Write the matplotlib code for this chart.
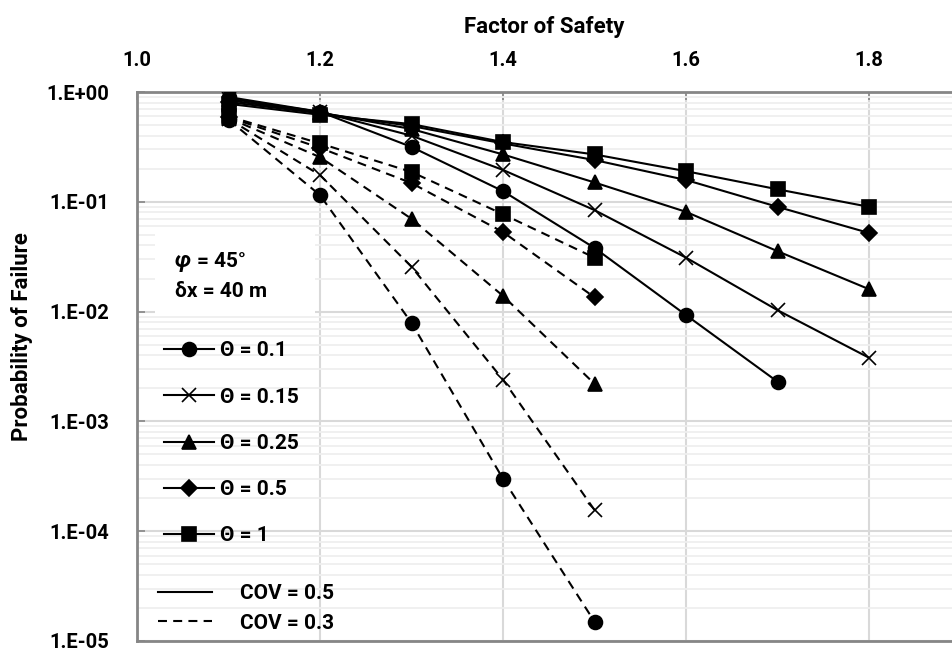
import numpy as np
import matplotlib
matplotlib.use("Agg")
import matplotlib.pyplot as plt
from matplotlib.lines import Line2D
from matplotlib.patches import Rectangle
from matplotlib.ticker import FuncFormatter, LogLocator, NullFormatter

plt.rcParams['font.family'] = ['Roboto', 'DejaVu Sans']
plt.rcParams['font.weight'] = 'bold'

# データ
fs = [1.1, 1.2, 1.3, 1.4, 1.5, 1.6, 1.7, 1.8]
fs_short = [1.1, 1.2, 1.3, 1.4, 1.5]

# COV = 0.5 （実線）
pf_t01_c05 = [0.90, 0.66, 0.316, 0.125, 0.038, 0.0093, 0.0023]
pf_t015_c05 = [0.87, 0.66, 0.40, 0.195, 0.084, 0.031, 0.0103, 0.0038]
pf_t025_c05 = [0.84, 0.65, 0.46, 0.27, 0.15, 0.081, 0.0355, 0.016]
pf_t05_c05 = [0.81, 0.64, 0.49, 0.34, 0.24, 0.158, 0.090, 0.052]
pf_t1_c05 = [0.78, 0.62, 0.51, 0.35, 0.27, 0.19, 0.13, 0.090]

# COV = 0.3 （破線）
pf_t01_c03 = [0.56, 0.115, 0.0079, 0.0003, 1.5e-5]
pf_t015_c03 = [0.57, 0.175, 0.0256, 0.0024, 1.56e-4]
pf_t025_c03 = [0.58, 0.255, 0.070, 0.0139, 0.0022]
pf_t05_c03 = [0.59, 0.31, 0.148, 0.053, 0.0135]
pf_t1_c03 = [0.60, 0.34, 0.187, 0.077, 0.031]

theta_labels = ["Θ = 0.1", "Θ = 0.15", "Θ = 0.25", "Θ = 0.5", "Θ = 1"]
markers = ["o", "x", "^", "D", "s"]
msizes = [10, 10, 10, 8, 10]

solid = [pf_t01_c05, pf_t015_c05, pf_t025_c05, pf_t05_c05, pf_t1_c05]
dashed = [pf_t01_c03, pf_t015_c03, pf_t025_c03, pf_t05_c03, pf_t1_c03]

fig = plt.figure(figsize=(9.52, 6.55), dpi=100)
ax = fig.add_axes([137 / 952, 14 / 655, 815 / 952, 549 / 655])

dash = (0, (4.3, 3.0))
for ys, m, ms in zip(dashed, markers, msizes):
    ax.plot(fs_short[:len(ys)], ys, color="black", lw=1.5, ls=dash,
            marker=m, ms=ms, mew=1.2, zorder=3)
for ys, m, ms in zip(solid, markers, msizes):
    ax.plot(fs[:len(ys)], ys, color="black", lw=1.5, ls="-",
            marker=m, ms=ms, mew=1.2, zorder=4)

ax.set_yscale("log")
ax.set_ylim(1e-5, 1)
ax.set_xlim(1.0, 1.8907)

# 軸とグリッド
ax.xaxis.tick_top()
ax.xaxis.set_label_position("top")
ax.set_xticks([1.0, 1.2, 1.4, 1.6, 1.8])
ax.set_xticklabels(["1.0", "1.2", "1.4", "1.6", "1.8"])
ax.yaxis.set_major_locator(LogLocator(base=10, numticks=10))
ax.yaxis.set_minor_locator(LogLocator(base=10, subs=np.arange(2, 10), numticks=20))
ax.yaxis.set_minor_formatter(NullFormatter())
ax.yaxis.set_major_formatter(FuncFormatter(lambda v, p: "1.E%+03d" % int(round(np.log10(v)))))

ax.tick_params(axis="both", which="major", direction="in", length=6, width=1.2,
               color="#868686", labelsize=14.5)
ax.tick_params(axis="y", which="major", pad=20)
ax.tick_params(axis="x", which="major", pad=16)
ax.tick_params(axis="y", which="minor", length=0)
for lab in ax.get_xticklabels() + ax.get_yticklabels():
    lab.set_fontweight("bold")

ax.grid(True, which="major", color="#d9d9d9", lw=1.5, zorder=0)
ax.grid(True, which="minor", axis="y", color="#efefef", lw=1.3, zorder=0)
ax.set_axisbelow(True)

for s in ["top", "left", "bottom"]:
    ax.spines[s].set_color("#868686")
    ax.spines[s].set_linewidth(2)
ax.spines["right"].set_visible(False)

ax.set_xlabel("Factor of Safety", fontsize=16, fontweight="bold", labelpad=12.5)
ax.set_ylabel("Probability of Failure", fontsize=16, fontweight="bold")
ax.yaxis.set_label_coords(-0.127, 0.555)

# φ, δx のテキスト（白い背景）
ax.add_patch(Rectangle((0.022, 0.592), 0.196, 0.153, transform=ax.transAxes,
                       facecolor="white", edgecolor="none", zorder=1))
ax.text(0.0466, 0.692, "φ", transform=ax.transAxes, fontsize=16, fontweight="bold",
        style="italic", va="center", ha="left", zorder=5)
ax.text(0.0736, 0.692, "= 45°", transform=ax.transAxes, fontsize=15, fontweight="bold",
        va="center", ha="left", zorder=5)
ax.text(0.0466, 0.6375, "δx = 40 m", transform=ax.transAxes, fontsize=15,
        fontweight="bold", va="center", ha="left", zorder=5)

# 凡例（Θ）
h1 = [Line2D([], [], color="black", lw=1.5, marker=m, ms=ms, mew=1.2)
      for m, ms in zip(markers, msizes)]
leg1 = ax.legend(h1, theta_labels, loc="upper left", bbox_to_anchor=(0.033, 0.546),
                 frameon=False, fontsize=15, labelspacing=1.31, handlelength=2.4,
                 handletextpad=0.3, borderaxespad=0, borderpad=0)
for t in leg1.get_texts():
    t.set_fontweight("bold")
ax.add_artist(leg1)

# 凡例（COV）
h2 = [Line2D([], [], color="black", lw=1.5, ls="-"),
      Line2D([], [], color="black", lw=1.5, ls=dash)]
leg2 = ax.legend(h2, ["COV = 0.5", "COV = 0.3"], loc="upper left",
                 bbox_to_anchor=(0.0258, 0.103), frameon=False, fontsize=15,
                 labelspacing=0.49, handlelength=2.6, handletextpad=1.35,
                 borderaxespad=0, borderpad=0)
for t in leg2.get_texts():
    t.set_fontweight("bold")

fig.savefig("out.png", dpi=100)
